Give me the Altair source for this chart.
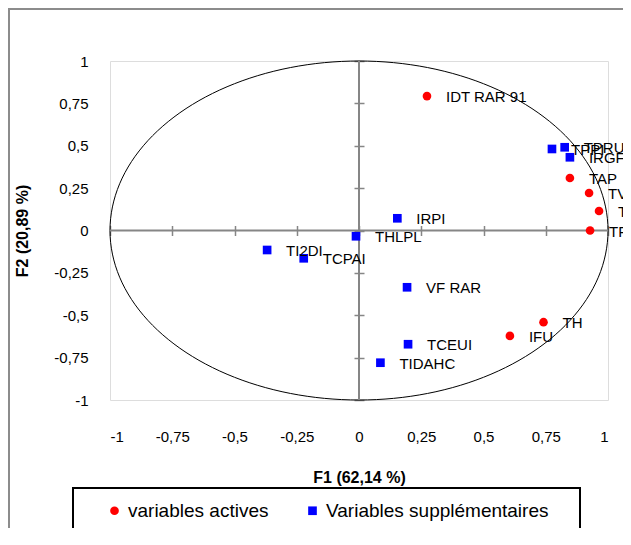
import altair as alt
import pandas as pd

# ---- data ----
act_names = ["IDT RAR 91", "TAP", "TVA", "TA", "TF", "TH", "IFU"]
act_f1 = [0.273, 0.847, 0.924, 0.964, 0.928, 0.741, 0.606]
act_f2 = [0.793, 0.310, 0.221, 0.115, 0.000, -0.541, -0.622]

sup_names = ["TPPI", "TPRU", "IRGF", "IRPI", "THLPL", "TI2DI", "TCPAI", "VF RAR", "TCEUI", "TIDAHC"]
sup_f1 = [0.775, 0.826, 0.847, 0.154, -0.012, -0.369, -0.222, 0.193, 0.197, 0.086]
sup_f2 = [0.481, 0.491, 0.432, 0.072, -0.034, -0.115, -0.164, -0.335, -0.671, -0.780]

groups = ["variables actives", "Variables supplémentaires"]
tick_values = [-1, -0.75, -0.5, -0.25, 0, 0.25, 0.5, 0.75, 1]

FONT = "Liberation Sans"
GRAY = "#868686"

pts = pd.concat([
    pd.DataFrame({"name": act_names, "F1": act_f1, "F2": act_f2, "grp": groups[0]}),
    pd.DataFrame({"name": sup_names, "F1": sup_f1, "F2": sup_f2, "grp": groups[1]}),
], ignore_index=True)

xs = alt.Scale(domain=[-1, 1], nice=False, zero=False)
ys = alt.Scale(domain=[-1, 1], nice=False, zero=False)

label_expr = "replace(toString(datum.value), '.', ',')"

# outer frame (decoration)
dummy = pd.DataFrame({"a": [0]})
frame = alt.Chart(dummy).mark_rect(fill=None, stroke="#8c8c8c", strokeWidth=2).encode(
    x=alt.value(-101), x2=alt.value(900), y=alt.value(-52), y2=alt.value(900)
)
legend_box = alt.Chart(dummy).mark_rect(fill="white", stroke="black", strokeWidth=2).encode(
    x=alt.value(-37), x2=alt.value(470), y=alt.value(427), y2=alt.value(471)
)

# unit circle
circle = alt.Chart(alt.sequence(0, 362, 2, as_="deg")).transform_calculate(
    cx="cos(datum.deg * PI / 180)", cy="sin(datum.deg * PI / 180)"
).mark_line(color="black", strokeWidth=1).encode(
    x=alt.X("cx:Q", scale=xs, axis=alt.Axis(
        values=tick_values, labelExpr=label_expr, domain=False, ticks=False, grid=False,
        labelPadding=29, labelFontSize=15, labelFont=FONT, labelColor="black",
        title="F1 (62,14 %)", titleFont=FONT, titleFontSize=16, titleFontWeight="bold",
        titleColor="black", titlePadding=25)),
    y=alt.Y("cy:Q", scale=ys, axis=alt.Axis(
        values=tick_values, labelExpr=label_expr, domain=False, ticks=False, grid=False,
        labelPadding=22, labelFontSize=15, labelFont=FONT, labelColor="black",
        title="F2 (20,89 %)", titleFont=FONT, titleFontSize=16, titleFontWeight="bold",
        titleColor="black", titlePadding=23)),
    order="deg:Q",
)

# zero lines with crossing ticks
zl = pd.DataFrame({"x1": [-1, 0], "x2": [1, 0], "y1": [0, -1], "y2": [0, 1]})
zero_lines = alt.Chart(zl).mark_rule(color=GRAY, strokeWidth=2).encode(
    x=alt.X("x1:Q", scale=xs, axis=alt.Axis(
        orient="top", offset=-174.5, values=tick_values, domain=False, labels=False,
        ticks=True, tickSize=10, tickColor=GRAY, tickWidth=1.5, grid=False, title=None)),
    x2="x2:Q",
    y=alt.Y("y1:Q", scale=ys, axis=alt.Axis(
        orient="right", offset=-254, values=tick_values, domain=False, labels=False,
        ticks=True, tickSize=10, tickColor=GRAY, tickWidth=1.5, grid=False, title=None)),
    y2="y2:Q",
)

points = alt.Chart(pts).mark_point(filled=True, opacity=1, size=75).encode(
    x=alt.X("F1:Q", scale=xs, axis=None),
    y=alt.Y("F2:Q", scale=ys, axis=None),
    color=alt.Color("grp:N", scale=alt.Scale(domain=groups, range=["#FF0000", "#0000FF"]),
                    legend=alt.Legend(orient="none", legendX=-5, legendY=440, direction="horizontal",
                                      title=None, labelFont=FONT, labelFontSize=19,
                                      labelColor="black", symbolSize=75, labelOffset=4,
                                      labelLimit=400, columnPadding=34, padding=0)),
    shape=alt.Shape("grp:N", scale=alt.Scale(domain=groups, range=["circle", "square"])),
)

labels = alt.Chart(pts).mark_text(align="left", baseline="middle", dx=19, dy=1,
                                  font=FONT, fontSize=15, color="black").encode(
    x=alt.X("F1:Q", scale=xs, axis=None),
    y=alt.Y("F2:Q", scale=ys, axis=None),
    text="name:N",
)

chart = alt.layer(frame, legend_box, circle, zero_lines, points, labels).resolve_axis(
    x="independent", y="independent"
).properties(
    width=498, height=339,
    title=alt.Title("Variables (axes F1 et F2 : 83,03 %)", font=FONT, fontSize=19,
                    fontWeight="bold", color="black", anchor="middle", dx=-36, offset=9),
    autosize=alt.AutoSizeParams(type="none"),
    padding={"left": 102, "top": 53, "right": 15, "bottom": 128},
).configure_view(stroke="#8c8c8c", strokeWidth=2).configure(background="white")

chart.save("out.html", embed_options={"renderer": "svg", "actions": False})
